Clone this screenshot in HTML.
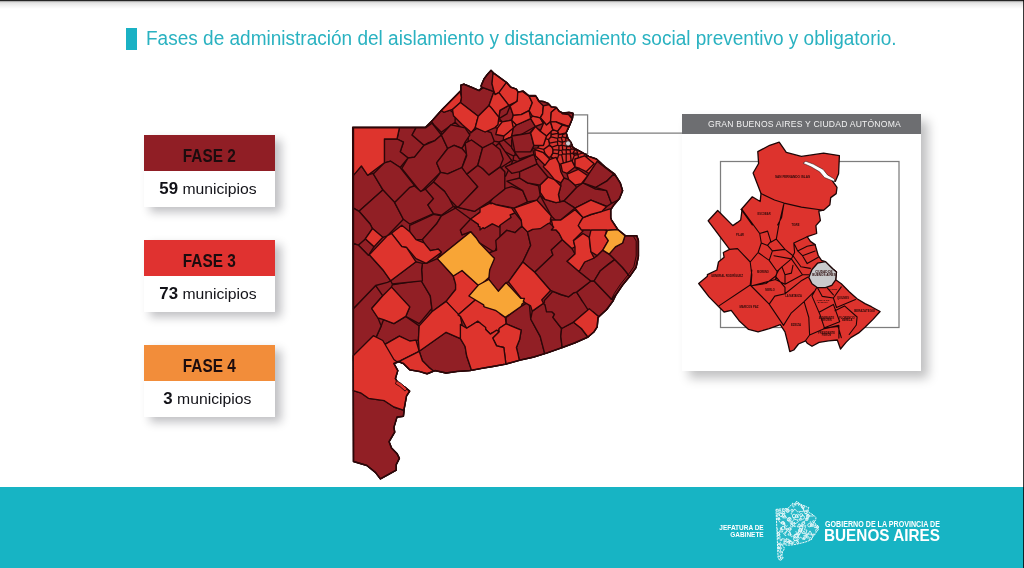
<!DOCTYPE html>
<html lang="es">
<head>
<meta charset="utf-8">
<title>Fases de administración del aislamiento</title>
<style>
html,body{margin:0;padding:0;}
body{width:1024px;height:568px;position:relative;overflow:hidden;background:#fff;font-family:"Liberation Sans",sans-serif;}
.abs{position:absolute;}
#topline{left:0;top:0;width:1024px;height:9px;background:linear-gradient(#1e1e1e 0,#2c2c2c 1px,#c9c9c9 1.6px,#e4e4e4 3px,#f3f3f3 6px,#fff 9px);}
#rightline{right:0;top:0;width:1.2px;height:568px;background:rgba(0,0,0,.78);}
#tbar{left:126px;top:28px;width:11px;height:22px;background:#1ab1c4;}
#title{left:146px;top:25px;height:26px;line-height:26px;font-size:19.5px;color:#2ab2c1;white-space:nowrap;transform-origin:0 50%;transform:scaleX(.9754);}
.card{left:144px;width:131px;height:72px;background:#fff;box-shadow:6px 5px 9px rgba(20,20,30,.27);}
.card .h{height:36px;line-height:43.4px;text-align:center;font-weight:bold;font-size:17.6px;color:#1c0c0e;}
.card .h span{display:inline-block;transform:scaleX(.875);}
.card .b{height:36px;line-height:35.4px;text-align:center;font-size:15.5px;color:#121218;white-space:nowrap;}
.card .b b{font-size:16.6px;}
.card .b span{display:inline-block;transform:translateX(-2px) scaleX(1.015);}
#footer{left:0;top:487px;width:1024px;height:81px;background:#17b4c4;}
#panel{left:682px;top:114px;width:239px;height:257px;background:#fff;box-shadow:7px 7px 10px rgba(10,10,15,.26);}
#panel .ph{height:20px;line-height:20px;background:#6d6e71;color:#f1f1f1;font-size:8.6px;text-align:center;letter-spacing:.2px;white-space:nowrap;padding-left:6px;box-sizing:border-box;}
#map{left:0;top:0;width:1024px;height:568px;filter:blur(.3px);}
.ft{color:#fff;font-weight:bold;white-space:nowrap;}
</style>
</head>
<body>
<div id="tbar" class="abs"></div>
<div id="title" class="abs">Fases de administración del aislamiento y distanciamiento social preventivo y obligatorio.</div>

<div class="card abs" style="top:135px"><div class="h" style="background:#901e25"><span>FASE 2</span></div><div class="b"><span><b>59</b> municipios</span></div></div>
<div class="card abs" style="top:240px"><div class="h" style="background:#e03230"><span>FASE 3</span></div><div class="b"><span><b>73</b> municipios</span></div></div>
<div class="card abs" style="top:345px"><div class="h" style="background:#f28d3a"><span>FASE 4</span></div><div class="b"><span><b>3</b> municipios</span></div></div>

<div id="panel" class="abs"><div class="ph">GRAN BUENOS AIRES Y CIUDAD AUTÓNOMA</div></div>

<svg id="map" class="abs" viewBox="0 0 1024 568" width="1024" height="568">
<g fill="none" stroke="#7d7d7d" stroke-width="1.25"><path d="M566.5,114.8H587.6V153.5H566.5Z"/><path d="M587.6,133H682"/><rect x="720.5" y="161.5" width="178.5" height="166"/></g>
<path d="M779.2,142.1 786.3,152.4 801.4,156.4 823.6,153.2 839.4,155.6 838.6,173.8 835.4,181.3 831.5,179.7 837.0,187.3 836.2,193.6 830.7,197.6 829.9,204.7 823.6,210.2 818.8,211.0 820.4,220.5 815.9,225.6 816.7,233.5 807.2,236.7 810.4,241.4 815.1,244.6 818.3,255.7 821.5,260.4 825.4,261.6 832.6,268.7 836.5,271.9 835.7,279.8 841.3,283.8 849.2,291.7 857.1,298.8 865.0,303.6 871.4,306.7 880.1,311.5 873.0,319.4 865.0,327.3 858.7,332.9 850.8,337.6 846.0,342.4 840.5,349.0 837.3,340.0 828.6,340.8 819.1,342.4 812.0,346.3 807.2,343.2 805.6,340.8 798.5,344.0 793.8,350.0 789.8,351.6 788.2,344.5 785.0,331.8 780.3,324.7 769.2,328.6 758.1,331.8 748.6,329.4 739.1,320.7 731.2,310.4 724.1,312.0 719.3,307.2 709.0,296.9 698.7,283.5 707.4,276.3 707.4,274.7 716.9,270.0 718.5,262.0 724.1,257.3 723.3,252.5 729.6,249.4 708.2,220.8 717.7,210.5 732.8,225.6 737.5,222.4 740.7,220.0 742.3,208.2 741.2,209.5 752.3,196.8 760.2,201.5 761.0,193.6 753.1,173.0 758.6,163.5 757.8,151.6 769.7,145.3Z" fill="#dd332d" stroke="#1d0506" stroke-width="1.3" stroke-linejoin="round"/>
<path d="M761.0,193.6 774.5,200.0 784.0,203.1 801.4,207.1 823.6,210.2M784.0,203.1 781.6,217.4 777.6,225.0M741.2,209.5 752.3,225.0M742.3,209.8 759.7,233.5 767.6,231.1 770.8,241.4M783.5,205.0 778.7,225.6 776.3,239.1 770.8,242.2M776.3,239.1 785.0,249.4 793.0,255.7 794.6,252.5 793.8,243.0 807.2,236.7M759.7,233.5 761.3,243.0 758.1,252.5 750.2,262.0 737.5,248.6 729.6,249.4M750.2,262.0 751.8,274.7 751.0,285.8M758.1,252.5 769.2,260.4 777.1,271.5 775.5,279.5 751.8,285.8M761.3,243.0 767.6,245.4 772.4,250.9 769.2,260.4M767.6,245.4 770.8,241.4M772.4,250.9 785.0,249.4M774.0,255.7 791.4,258.9 793.0,255.7M777.1,271.5 781.9,266.8 791.4,258.9 802.5,274.7 785.0,284.2 775.5,279.5M781.9,266.8 785.0,274.7 791.4,273.1 793.0,265.2M785.0,274.7 785.0,284.2M793.8,243.0 797.7,250.9 807.2,246.2 815.1,244.6M797.7,250.9 802.5,255.7 815.1,250.9M802.5,255.7 807.2,263.6 818.3,257.3M793.0,255.7 800.9,266.8 810.4,268.4M802.5,274.7 808.8,274.7M719.3,305.6 750.2,285.0M750.2,285.0 769.2,304.1 783.5,325.4M750.2,285.0 751.8,270.0M751.8,285.8 766.0,283.5 775.5,276.3 778.7,270.0M769.2,304.1 774.8,296.1 785.0,293.8 800.9,281.1 808.0,277.1M775.5,276.3 785.0,287.4 785.0,293.8M783.5,325.4 791.4,312.8 804.1,301.7 815.1,290.6 816.7,287.4M804.1,301.7 808.8,317.5 809.6,335.0 805.6,340.5M815.1,290.6 812.0,296.1 819.9,314.4 824.7,328.6 809.6,335.0M824.7,328.6 838.9,325.4 838.9,338.1M817.5,287.7 822.3,296.4 833.4,298.0 841.3,286.9M833.4,298.0 836.5,307.5 855.5,299.6M819.1,312.3 833.4,304.4 839.7,321.8 823.9,328.1M835.0,310.7 844.5,305.9 857.1,317.0 856.3,325.0 849.2,334.5M823.9,328.1 838.1,326.5 841.3,337.6M827.0,287.7 833.4,294.9" fill="none" stroke="#1d0506" stroke-width="1.1" stroke-linejoin="round" stroke-linecap="round"/>
<path d="M803.0,163.2 810.9,166.7 819.6,171.8 824.4,177.5 834.7,181.7 834.3,179.0 827.5,174.9 823.2,169.5 813.3,164.1 805.8,161.3Z" fill="#fff" stroke="#1d0506" stroke-width="0.5"/>
<path d="M808.8,277.4 812.0,269.5 817.5,263.2 825.4,261.6 832.6,268.7 836.5,271.9 835.7,279.8 831.8,285.3 825.4,287.7 817.5,287.7 812.0,283.8Z" fill="#c9cacc" stroke="#1d0506" stroke-width="1.3" stroke-linejoin="round"/>
<g font-family="'Liberation Sans',sans-serif" font-weight="bold" fill="#2a0a0a" text-anchor="middle"><text x="792.5" y="178.3" font-size="3.12">SAN FERNANDO ISLAS</text><text x="764" y="214.5" font-size="2.64">ESCOBAR</text><text x="795.5" y="225.5" font-size="2.64">TIGRE</text><text x="740" y="236" font-size="2.64">PILAR</text><text x="727" y="276.5" font-size="2.88">GENERAL RODRÍGUEZ</text><text x="763" y="273" font-size="2.64">MORENO</text><text x="770" y="290.5" font-size="2.64">MERLO</text><text x="749" y="308" font-size="2.88">MARCOS PAZ</text><text x="793.5" y="296.5" font-size="2.64">LA MATANZA</text><text x="796" y="326" font-size="2.88">EZEIZA</text><text x="824" y="272.5" font-size="3.12">CIUDAD DE</text><text x="824" y="276" font-size="3.12">BUENOS AIRES</text><text x="843" y="298.5" font-size="2.64">QUILMES</text><text x="864.5" y="312" font-size="2.88">BERAZATEGUI</text><text x="847" y="318.5" font-size="2.64">FLORENCIO</text><text x="847" y="321" font-size="2.64">VARELA</text><text x="826.5" y="318.5" font-size="2.64">ALMIRANTE</text><text x="826.5" y="321" font-size="2.64">BROWN</text><text x="826.5" y="333.5" font-size="2.64">PRESIDENTE</text><text x="826.5" y="336" font-size="2.64">PERÓN</text><text x="833" y="290" font-size="2.40">LANÚS</text><text x="823" y="301" font-size="2.40">LOMAS DE</text><text x="823" y="303.3" font-size="2.40">ZAMORA</text></g><path d="M352.7,127.3 353.5,461.5 366.9,465.5 375.6,472.6 380.4,478.9 387.5,475.0 396.2,470.2 396.2,464.7 399.4,458.3 397.0,453.6 391.5,448.0 389.1,441.7 394.7,432.2 393.9,427.4 397.0,417.1 403.4,416.3 404.2,408.6 406.5,396.0 409.7,391.2 404.9,387.2 398.6,384.1 395.4,378.5 397.8,370.6 393.9,363.5 398.6,361.9 403.4,363.5 409.7,369.8 419.2,371.4 427.1,373.8 435.0,370.6 446.1,373.0 457.2,371.4 469.9,370.6 482.6,368.2 492.7,366.5 505.3,364.2 519.6,360.2 533.9,357.0 546.5,353.1 562.4,347.5 575.0,342.8 587.7,337.2 594.1,331.7 597.2,326.9 598.0,317.4 606.7,309.5 613.1,300.8 616.2,294.5 622.6,285.0 630.5,275.4 636.0,267.5 638.4,256.4 638.4,240.6 636.8,235.8 625.7,235.8 617.8,229.5 611.5,220.0 610.7,217.6 610.7,209.7 613.9,205.0 619.4,198.6 622.6,190.7 620.2,182.8 614.7,174.1 605.1,166.9 596.4,159.0 588.8,156.4 581.9,152.4 573.0,147.5 571.0,142.5 568.0,138.6 566.1,132.7 569.0,126.8 572.5,118.2 573.0,113.3 569.0,112.3 563.1,113.1 559.2,111.3 556.2,107.4 551.3,106.9 548.3,103.4 543.4,101.5 539.0,101.0 535.5,95.6 528.6,95.6 523.2,91.1 518.2,92.1 516.3,89.1 510.8,87.2 506.8,82.7 494.0,73.4 491.0,70.4 487.1,74.8 484.1,78.8 481.1,85.7 481.6,87.7 479.2,90.6 471.3,87.2 463.9,84.2 460.9,85.2 460.9,90.6 441.7,110.0 432.8,120.0 425.5,127.3Z" fill="#911f25" stroke="#2b0709" stroke-width="1.3" stroke-linejoin="round"/>
<path d="M503.2,140.4 504.1,140.2 512.1,136.6 512.0,136.0 513.4,129.1 512.6,128.3 503.9,135.5ZM539.2,129.8 538.7,129.4 537.8,129.3 539.7,131.2ZM533.0,129.2 529.5,133.4 530.7,133.2 530.8,133.2 530.8,133.2 530.8,133.2 530.9,133.2 530.9,133.1 530.9,133.1 530.9,133.1 530.9,133.1 533.8,129.2ZM539.7,131.2 540.0,131.5 540.0,131.5 540.0,131.5 540.1,131.6 540.1,131.6 540.1,131.6 540.1,131.6 540.2,131.6 540.2,131.6 540.2,131.6 540.3,131.6 540.3,131.6 540.3,131.6 540.3,131.6 540.4,131.5 540.4,131.5 540.4,131.5 540.4,131.5 540.5,131.5 540.5,131.4 540.5,131.4 541.1,130.0 539.2,129.8ZM548.6,139.7 551.0,136.9 551.3,134.5 550.8,131.3 546.3,135.8 546.3,135.8 546.3,135.8 546.2,135.9 546.2,135.9 546.2,135.9 545.3,138.7ZM549.5,145.1 549.5,143.1 548.6,139.7 545.3,138.7 543.2,145.2 539.3,145.2 537.7,147.8 543.7,149.4ZM552.9,153.2 553.1,149.7 552.0,147.1 549.5,145.1 543.7,149.4 545.0,153.4 548.6,157.4 550.8,156.8ZM537.7,147.8 532.9,148.4 532.8,148.5 532.6,149.8 533.5,154.1 531.6,154.7 531.4,155.7 533.7,154.7 535.5,160.2 538.3,158.2 535.7,155.7 535.1,149.9 543.2,153.0 544.2,153.9 545.0,153.4 543.7,149.4ZM560.0,165.0 560.0,165.0 557.9,161.8 558.9,163.9 559.2,165.1ZM550.8,156.8 548.6,157.4 548.3,158.1 549.3,159.0 548.9,159.5 548.9,159.5 548.9,159.6 548.9,159.6 548.9,159.6 548.9,159.7 548.9,159.7 548.9,159.7 548.9,159.7 548.9,159.8 548.9,159.8 548.9,159.8 548.9,159.8 548.9,159.9 549.0,159.9 549.0,159.9 549.0,159.9 549.0,160.0 549.0,160.0 549.1,160.0 549.1,160.0 549.1,160.0 549.2,160.0 549.2,160.0 549.2,160.0 549.2,160.0 549.3,160.0 553.7,158.5ZM578.6,167.8 575.3,166.7 575.3,163.2 574.1,165.1 576.2,168.3 578.1,168.8ZM578.0,154.7 578.1,154.5 577.6,153.4 573.1,152.8 572.7,153.4 574.4,155.3ZM585.9,157.3 593.7,163.8 586.1,171.2 586.1,171.7 588.6,173.5 590.8,171.5 597.3,161.8 599.7,163.7 600.7,162.9 596.4,159.0 588.8,156.4 587.1,155.4 585.9,157.2ZM498.1,120.8 497.6,124.6 494.8,127.3 494.7,127.4 497.7,128.3 497.7,128.2 502.4,122.0 502.5,122.0 502.5,121.9 502.5,121.9 502.5,121.9 502.5,121.9 502.5,121.8 502.5,121.8 502.5,121.8 502.5,121.7 502.5,121.7 502.5,121.7 502.5,121.7 502.4,121.6 502.4,121.6 502.4,121.6 502.4,121.5ZM513.4,129.1 513.6,128.2 516.6,125.2 516.6,125.2 516.6,125.2 516.7,125.1 516.7,125.1 516.7,125.1 516.7,125.1 516.7,125.0 516.7,125.0 516.7,125.0 516.7,124.9 516.7,124.9 516.7,124.9 516.7,124.9 516.7,124.8 516.6,124.8 516.6,124.8 511.9,120.0 511.9,120.0 511.9,120.0 511.8,119.9 511.8,119.9 511.8,119.9 511.8,119.9 511.7,119.9 511.7,119.9 511.7,119.9 511.6,119.9 511.6,119.9 511.6,119.9 511.6,119.9 511.5,120.0 511.5,120.0 511.5,120.0 511.5,120.0 511.5,120.0 511.4,120.1 511.4,120.1 511.4,120.1 511.4,120.1 511.4,120.2 511.4,120.2 511.4,120.2 511.4,120.3 513.0,128.0 512.6,128.3Z" fill="#de342d" stroke="#2b0709" stroke-width="1.35" stroke-linejoin="round"/>
<path d="M532.6,147.4 532.3,148.1 532.3,148.1 532.3,148.1 532.2,148.2 532.2,148.2 532.2,148.2 532.2,148.3 532.2,148.3 532.3,148.5 532.8,148.5 532.9,148.4ZM514.9,154.9 515.4,152.6 512.0,147.8 512.0,147.6 504.1,140.2 503.2,140.4 498.9,142.0 503.8,150.3 504.7,151.5 513.7,156.1ZM513.7,156.1 504.7,151.5 511.3,160.5 501.7,166.7 501.8,169.1 504.5,171.8 504.5,175.7 505.6,176.2 508.6,169.8 505.8,167.0 511.0,164.7 513.1,160.2ZM527.4,156.1 519.7,158.6 517.2,155.1 514.9,154.9 513.7,156.1 513.1,160.2 518.0,161.6 530.0,156.4ZM441.3,132.3 450.9,125.3 451.0,125.1 451.1,125.1 455.1,122.2 455.2,117.1 453.8,115.7 453.3,112.6 449.6,110.0 443.8,112.0 441.7,110.4 441.9,110.2 445.1,107.0 444.9,106.8 441.7,110.0 432.8,120.0 431.5,121.3 434.1,125.1ZM433.5,125.7 441.2,135.2 441.3,132.3 434.1,125.1ZM427.5,144.1 435.1,140.9 435.1,140.9 435.2,140.8 435.2,140.8 435.2,140.8 435.2,140.8 435.3,140.8 435.3,140.7 435.3,140.7 435.3,140.7 435.3,140.7 435.3,140.6 435.3,140.6 435.3,140.6 435.3,140.5 435.3,140.5 435.3,140.5 435.3,140.5 435.2,140.4 435.2,140.4 435.2,140.4 435.2,140.4 435.2,140.3 435.1,140.3 435.1,140.3 435.1,140.3 435.1,140.3 435.0,140.3 435.0,140.3 435.0,140.3 434.9,140.3 434.9,140.3 427.8,142.7 427.8,142.7 427.7,142.7 425.2,144.3ZM441.2,135.2 441.2,135.2 441.2,135.2 441.2,135.2 441.2,135.2 441.3,135.3 441.3,135.3 441.3,135.3 441.3,135.3 441.4,135.3 441.4,135.3 441.4,135.3 441.5,135.3 441.5,135.3 441.5,135.3 441.5,135.3 441.6,135.2 441.6,135.2 441.6,135.2 450.9,125.3 441.3,132.3ZM455.1,122.2 451.1,125.1 460.1,127.1ZM486.5,131.0 485.1,131.7 477.1,128.1 468.8,134.0 469.5,135.0 468.3,136.9 468.1,141.5 468.6,141.8 471.5,140.3 482.4,148.1 482.5,148.2 482.5,148.2 482.5,148.2 482.5,148.2 482.6,148.2 482.6,148.2 482.6,148.2 482.6,148.2 482.7,148.2 482.7,148.2 482.7,148.2 492.1,143.6 492.2,143.7 494.2,141.1 491.0,132.6ZM498.9,142.0 494.2,141.1 492.2,143.7 495.5,146.3 495.5,146.3 495.6,146.3 495.6,146.4 495.6,146.4 495.7,146.4 495.7,146.4 495.7,146.4 495.7,146.4 495.8,146.4 495.8,146.4 495.8,146.4 495.9,146.3 495.9,146.3 495.9,146.3 499.0,143.6 503.8,150.3ZM504.1,140.2 512.0,147.6 512.0,140.3 512.5,140.3 512.5,140.3 512.6,140.3 512.6,140.3 512.6,140.3 512.6,140.3 512.7,140.2 512.7,140.2 512.7,140.2 512.7,140.2 512.8,140.2 512.8,140.1 512.8,140.1 512.8,140.1 512.8,140.1 512.8,140.0 512.8,140.0 512.8,140.0 512.8,139.9 512.1,136.6ZM425.2,144.3 423.8,145.0 423.8,145.1 423.8,145.1 423.8,145.1 423.8,145.1 423.7,145.1 423.7,145.2 423.7,145.2 423.7,145.2 423.7,145.3 423.7,145.3 423.7,145.3 423.7,145.3 423.7,145.4 423.7,145.4 423.7,145.4 423.7,145.4 423.8,145.5 423.8,145.5 423.8,145.5 423.8,145.5 423.8,145.6 423.9,145.6 423.9,145.6 423.9,145.6 423.9,145.6 424.0,145.6 424.0,145.6 424.0,145.6 424.1,145.6 424.1,145.6 424.1,145.6 427.5,144.1ZM461.9,148.0 461.7,148.4 461.7,148.4 461.7,148.4 461.7,148.4 461.7,148.5 461.7,148.5 461.7,148.5 461.7,148.6 461.7,148.6 461.7,148.6 461.7,148.6 461.8,148.7 461.8,148.7 461.9,148.8ZM465.8,158.9 467.0,155.9 467.0,155.9 467.0,155.9 467.0,155.8 467.0,155.8 467.0,155.8 466.8,154.5 466.8,154.5 466.8,154.5 466.8,154.4 466.8,154.4 466.8,154.4 466.8,154.4 466.7,154.3 466.7,154.3 466.7,154.3 466.7,154.3 466.6,154.3 466.6,154.3 466.6,154.3 466.6,154.3 466.5,154.3 466.5,154.3 466.5,154.3 466.4,154.3 466.4,154.3 466.4,154.3 466.4,154.3 466.3,154.3 466.3,154.4 466.3,154.4 466.3,154.4 466.3,154.4 466.3,154.5 464.6,159.3ZM468.1,141.5 466.8,142.7 468.6,141.8ZM462.5,146.8 461.9,148.0 461.9,148.8 466.2,154.0 466.2,154.0 466.3,154.0 466.3,154.0 466.3,154.1 466.3,154.1 466.4,154.1 466.4,154.1 466.4,154.1 466.5,154.1 466.5,154.1 466.5,154.1 466.5,154.1 466.6,154.1 466.6,154.1 466.6,154.0 466.6,154.0 466.7,154.0 466.7,154.0 466.7,154.0 466.7,153.9 466.7,153.9 466.7,153.9 466.7,153.8 466.7,153.8 466.7,153.8 466.7,153.8 465.5,143.9Z" fill="#911f25" stroke="#2b0709" stroke-width="1.35" stroke-linejoin="round"/>
<path d="M555.2,130.2 553.0,129.4 553.0,129.4 552.9,129.4 552.9,129.4 552.9,129.4 552.8,129.4 552.8,129.4 552.8,129.4 552.8,129.4 552.7,129.4 552.7,129.5 552.7,129.5 551.8,130.4ZM551.3,134.5 557.8,133.3 558.0,131.3 557.9,131.2 557.9,131.1 557.8,131.1 557.8,131.1 557.8,131.1 557.8,131.1 557.7,131.0 557.7,131.0 557.7,131.0 555.2,130.2 551.8,130.4 550.8,131.3ZM557.6,138.3 558.3,137.7 558.3,134.0 557.8,133.3 551.3,134.5 551.0,136.9ZM548.6,139.7 549.5,143.1 557.4,141.7 557.8,140.9 557.6,138.3 551.0,136.9ZM552.0,147.1 557.8,145.2 557.4,141.7 549.5,143.1 549.5,145.1ZM557.8,145.2 552.0,147.1 553.1,149.7 558.9,150.1 558.9,145.8ZM558.9,150.1 553.1,149.7 552.9,153.2 558.2,153.8 559.0,150.3ZM558.8,154.8 558.2,153.8 552.9,153.2 550.8,156.8 553.7,158.5 555.8,157.8 556.9,159.9ZM561.6,123.6 560.1,123.0 559.8,124.0 561.8,125.0ZM559.2,133.9 558.0,131.3 557.8,133.3 558.3,134.0ZM561.9,133.6 561.9,133.6 561.6,133.6ZM562.5,136.8 562.6,134.7 561.9,133.6 561.6,133.6 559.4,134.2 559.2,133.9 558.3,134.0 558.3,137.7 561.3,137.6ZM558.3,137.7 557.6,138.3 557.8,140.9 562.4,142.4 562.6,142.2 561.3,137.6ZM557.8,140.9 557.4,141.7 557.8,145.2 558.9,145.8 562.0,145.1 562.4,142.4ZM562.3,145.3 562.0,145.1 558.9,145.8 558.9,150.1 559.0,150.3 561.7,150.4 562.7,149.6ZM559.0,150.3 558.2,153.8 558.8,154.8 561.7,154.8 562.7,153.9 561.7,150.4ZM558.8,154.8 556.9,159.9 557.9,161.8 560.0,165.0 561.2,164.4 561.1,164.0 562.8,163.5 563.4,163.2 561.7,154.8ZM562.6,134.7 566.1,133.4 566.1,132.8 566.1,132.7 566.1,132.6 566.1,132.0 565.8,132.6 565.8,132.6 565.8,132.6 565.8,132.6 565.8,132.7 565.8,132.7 561.9,133.6 561.9,133.6ZM562.6,134.7 562.5,136.8 565.8,137.9 566.0,137.8 567.0,135.5 566.5,133.9 566.1,133.4ZM562.5,136.8 561.3,137.6 562.6,142.2 565.8,141.0 565.8,137.9ZM565.8,141.0 562.6,142.2 562.4,142.4 562.0,145.1 562.3,145.3 566.4,146.1 567.4,142.2ZM566.4,146.1 562.3,145.3 562.7,149.6 566.1,149.8 566.3,149.5 566.7,146.6ZM562.7,149.6 561.7,150.4 562.7,153.9 566.2,154.1 566.4,153.9 566.1,149.8ZM566.2,154.1 562.7,153.9 561.7,154.8 563.4,163.2 566.2,162.5ZM566.2,126.2 568.3,126.7 567.0,130.2 566.6,130.9 567.0,130.9 569.0,126.8 569.1,126.5 568.8,125.8 568.6,126.1 566.3,125.3ZM566.5,133.9 566.1,132.8 566.1,133.4ZM566.1,132.6 567.0,130.9 566.6,130.9 566.1,132.0ZM567.8,138.0 567.0,135.5 566.0,137.8ZM565.8,137.9 565.8,141.0 567.4,142.2 569.8,142.0 570.1,141.8 570.1,141.3 568.0,138.6 567.8,138.0 566.0,137.8ZM566.4,146.1 566.7,146.6 570.4,146.5 569.8,142.0 567.4,142.2ZM570.5,146.6 570.4,146.5 566.7,146.6 566.3,149.5 570.2,150.0 571.1,148.9ZM566.3,149.5 566.1,149.8 566.4,153.9 570.3,153.7 570.5,153.5 570.2,150.0ZM566.2,154.1 566.2,162.5 566.3,162.5 571.2,161.1 570.3,153.7 566.4,153.9ZM569.1,126.5 571.1,121.7 570.7,121.7 569.9,123.7 568.8,125.8ZM570.5,141.9 570.1,141.3 570.1,141.8ZM570.5,146.6 572.3,145.8 571.0,142.5 570.5,141.9 570.1,141.8 569.8,142.0 570.4,146.5ZM574.3,149.3 574.4,148.3 573.0,147.5 572.3,145.8 570.5,146.6 571.1,148.9ZM573.1,152.8 574.8,149.9 574.3,149.3 571.1,148.9 570.2,150.0 570.5,153.5 572.7,153.4ZM571.2,161.1 571.7,161.0 572.0,161.5 574.4,155.3 572.7,153.4 570.5,153.5 570.3,153.7ZM574.8,149.9 576.8,150.3 577.3,149.9 574.4,148.3 574.3,149.3ZM576.8,150.3 574.8,149.9 573.1,152.8 577.6,153.4ZM574.1,165.1 575.3,163.2 575.3,159.2 578.6,158.1 578.0,154.7 574.4,155.3 572.0,161.5 573.6,164.7ZM577.6,153.4 578.1,154.5 582.8,152.9 581.9,152.4 577.3,149.9 576.8,150.3ZM585.9,157.2 587.1,155.4 582.8,152.9 578.1,154.5 578.0,154.7 578.6,158.1 584.5,156.1 585.8,157.2Z" fill="#d4352f" stroke="#2b0709" stroke-width="1.3" stroke-linejoin="round"/>
<g fill="#911f25" stroke="#2b0709" stroke-width="1.35" stroke-linejoin="round"><path d="M353.5,208.1 359.0,211.3 382.8,189.9 373.3,173.3 367.7,174.9 361.4,166.1 353.5,174.9Z"/><path d="M397.0,139.0 403.4,142.2 400.2,151.7 408.1,158.0 414.5,157.2 424.0,145.3 412.1,135.0 416.0,127.9 399.4,127.9Z"/><path d="M384.4,162.8 390.7,161.2 400.2,167.5 408.1,158.0 400.2,151.7 403.4,142.2 397.0,139.0 384.4,139.0Z"/><path d="M412.1,135.0 424.0,145.3 427.9,143.0 435.0,140.6 441.4,135.0 431.9,123.2 425.5,127.9 416.0,127.9Z"/><path d="M414.5,157.2 408.1,158.0 401.8,168.3 420.8,192.1 440.6,172.3 436.6,162.8 447.7,148.5 441.4,135.0 435.0,140.6 424.0,145.3Z"/><path d="M447.7,148.5 454.1,145.3 462.0,148.5 465.1,142.2 469.9,135.0 465.1,127.9 450.9,124.8 441.4,135.0Z"/><path d="M436.6,162.8 440.6,172.3 447.7,173.9 462.0,167.5 466.7,154.1 462.0,148.5 454.1,145.3 447.7,148.5Z"/><path d="M384.4,162.8 373.3,173.9 382.8,189.7 394.7,202.4 409.7,188.1 414.5,185.7 400.2,167.5 390.7,161.2Z"/><path d="M433.5,181.8 444.6,191.3 449.3,199.2 458.0,207.9 477.8,186.5 462.0,167.5 447.7,173.9 440.6,172.3Z"/><path d="M358.2,245.1 368.5,255.4 374.1,246.7 365.3,238.8Z"/><path d="M381.2,325.9 374.1,341.8 382.8,345.7 399.4,336.2 409.7,341.0 418.4,340.2 419.2,325.9 405.7,316.4 393.9,323.6 383.6,319.6Z"/><path d="M353.5,360.8 374.1,341.8 381.2,325.9 378.0,318.0 371.7,308.5 382.8,295.8 375.6,285.5 353.5,308.5Z"/><path d="M391.5,287.1 409.7,306.9 405.7,316.4 419.2,323.6 431.9,308.5 430.3,295.8 420.8,280.0 392.3,284.8Z"/><path d="M431.9,308.5 431.9,311.7 446.1,301.4 455.2,290.0 457.2,290.0 455.6,284.3 455.6,280.0 454.4,280.0 453.3,276.0 437.4,258.6 426.3,263.4 422.4,263.4 421.6,269.7 422.3,280.0 420.8,280.0 430.3,295.8Z"/><path d="M419.2,351.3 422.4,360.8 433.0,371.4 435.0,370.6 446.1,373.0 457.2,371.4 469.9,370.6 471.6,370.3 471.5,370.0 466.7,356.0 465.1,346.5 460.4,338.6 446.1,332.3Z"/><path d="M506.1,323.8 521.2,330.1 519.6,339.6 516.4,347.5 519.3,360.3 519.6,360.2 533.9,357.0 544.7,353.6 540.2,336.4 530.7,319.0 529.1,301.6 521.2,306.3 506.1,317.4Z"/><path d="M530.7,319.0 540.2,336.4 544.7,353.6 546.5,353.1 562.2,347.6 560.8,336.4 561.6,328.5 552.9,317.4 554.5,314.3 543.4,303.2 532.3,311.1Z"/><path d="M560.8,336.4 562.2,347.6 562.4,347.5 575.0,342.8 587.7,337.2 587.9,337.0 581.4,328.5 573.5,322.2 561.6,328.5Z"/><path d="M546.5,311.9 552.1,311.9 554.5,314.3 552.9,317.4 561.6,328.5 573.5,322.2 585.6,311.9 589.3,311.9 588.0,309.8 589.3,308.7 582.3,301.0 576.6,292.1 573.5,292.9 568.7,296.8 560.8,294.5 552.9,291.3 544.2,300.8 544.5,302.1 543.4,303.2 545.0,304.8Z"/><path d="M589.3,311.9 593.1,311.9 598.8,316.7 606.7,309.5 613.1,300.8 613.5,300.0 613.1,300.0 611.5,299.2 594.1,281.0 590.9,281.0 576.6,292.1 581.7,300.0 581.4,300.0 582.3,301.0Z"/><path d="M403.4,410.2 393.9,407.0 384.4,400.7 368.5,398.3 360.6,392.8 353.3,390.7 353.5,461.5 366.9,465.5 375.6,472.6 380.4,478.9 387.5,475.0 396.2,470.2 396.2,464.7 399.4,458.3 397.0,453.6 391.5,448.0 389.1,441.7 394.7,432.2 393.9,427.4 397.0,417.1 403.4,416.3 404.0,410.8Z"/><path d="M461.4,97.5 460.4,102.5 478.2,116.3 489.0,105.4 494.0,91.6 483.1,87.7 479.2,90.6 471.3,87.2 463.9,84.2 460.9,85.2Z"/><path d="M483.1,87.7 494.0,91.6 492.0,83.7 493.5,73.9 492.2,71.7 491.0,70.4 487.1,74.8 484.1,78.8 481.1,85.7 481.3,86.5Z"/><path d="M498.9,117.3 506.8,122.2 511.7,120.2 513.7,113.3 508.8,105.4 499.9,110.4Z"/><path d="M560.8,185.9 558.4,194.7 560.0,201.8 564.0,201.0 576.6,187.5 575.0,185.1 568.7,179.6 564.0,178.0 560.8,182.8Z"/><path d="M564.0,201.0 575.0,208.1 590.9,200.2 606.7,206.5 611.5,203.4 606.7,190.7 595.6,189.1 583.0,182.8 576.6,187.5Z"/><path d="M583.0,182.8 595.6,187.5 606.7,181.2 613.9,174.1 597.2,161.4 587.7,175.6Z"/><path d="M606.7,181.2 595.6,187.5 606.7,190.7 611.5,203.4 618.2,200.0 619.4,198.6 622.6,190.7 620.2,182.8 616.5,177.0 613.9,174.1Z"/><path d="M551.3,216.0 557.6,222.4 575.0,208.1 564.0,201.0 556.0,202.6 545.0,199.4 540.2,195.4Z"/><path d="M502.2,220.0 497.4,224.8 489.5,223.2 483.2,227.9 480.0,229.5 480.0,246.9 487.9,253.3 496.6,250.1 495.8,240.6 506.9,230.3 514.9,232.7 517.9,230.0 518.0,230.0 518.1,229.8 522.0,226.3 521.7,224.1 522.8,222.4 521.3,220.6 521.2,220.0 520.8,220.0 514.9,212.9 503.8,217.6 502.6,220.0Z"/><path d="M489.5,203.4 514.1,208.1 527.5,201.8 522.8,190.7 511.7,186.7 497.4,190.7Z"/><path d="M522.8,190.7 527.5,201.8 537.0,200.2 540.2,195.4 538.6,185.9 527.5,182.8 519.6,178.0 506.9,181.2Z"/><path d="M519.6,178.0 527.5,182.8 540.2,185.1 548.1,177.2 537.0,163.8 519.6,171.7Z"/><path d="M511.7,173.3 519.6,171.7 537.0,163.8 533.9,154.3 505.3,166.9Z"/><path d="M492.7,163.8 500.6,167.7 511.7,160.6 499.0,143.2 486.3,154.3Z"/><path d="M511.7,147.9 519.6,159.0 533.9,154.3 530.7,140.0 511.7,140.0Z"/><path d="M370.1,224.0 372.5,228.7 382.8,237.4 387.5,235.8 403.4,219.2 394.7,202.6 382.8,189.9 359.0,211.3Z"/><path d="M403.4,219.2 409.7,224.0 433.5,213.7 427.9,205.0 433.5,198.6 425.5,189.1 420.8,191.5 414.5,185.9 409.7,187.5 394.7,202.6Z"/><path d="M433.5,198.6 427.9,205.0 433.5,213.7 441.4,215.2 453.3,206.5 449.3,198.6 444.6,191.5 433.5,182.0 425.5,189.1Z"/><path d="M409.7,231.7 416.0,239.6 422.4,239.6 436.6,223.8 441.4,215.8 433.5,214.3 409.7,225.3Z"/><path d="M436.6,223.8 422.4,239.6 424.0,242.8 430.3,250.7 438.2,249.1 441.4,252.3 437.4,258.6 470.7,231.7 462.0,234.9 460.4,230.1 471.5,219.0 457.2,207.1 441.4,215.8Z"/><path d="M470.7,219.2 492.1,203.4 488.9,201.8 474.7,211.3 458.0,207.3 453.3,206.5Z"/><path d="M460.4,230.1 462.0,234.9 470.7,231.7 476.2,238.0 479.4,242.8 494.5,252.3 500.0,239.6 500.0,225.3 492.1,223.8 484.2,228.5 470.7,219.0Z"/><path d="M353.5,243.0 358.2,245.3 365.3,239.0 372.5,228.7 370.1,224.0 359.0,211.3 353.5,208.1Z"/><path d="M353.5,308.5 375.6,285.5 387.5,282.4 390.7,280.8 382.8,269.7 369.3,254.7 368.5,255.4 358.2,245.1 353.5,243.6Z"/><path d="M390.7,280.8 392.3,284.0 422.4,280.8 421.6,269.7 422.4,263.4 416.0,261.8Z"/><path d="M496.6,250.1 487.9,253.3 494.3,258.0 489.5,269.1 488.7,279.4 498.2,291.3 506.1,282.6 508.5,281.8 522.8,262.0 530.7,245.3 527.5,231.9 522.0,226.3 514.9,232.7 506.9,230.3 495.8,240.6Z"/><path d="M530.7,245.3 522.8,262.0 534.7,272.3 552.9,254.9 551.3,250.1 562.4,239.8 559.2,233.5 552.9,226.3 549.7,223.2 540.2,225.5 527.5,231.9Z"/><path d="M534.7,272.3 550.5,290.5 552.9,291.3 560.8,294.5 568.7,296.8 573.5,292.9 576.6,292.1 590.9,281.0 579.0,271.5 567.1,261.2 575.0,254.1 571.9,248.5 562.4,239.8 551.3,250.1 552.9,254.9Z"/><path d="M590.9,281.0 594.1,281.0 600.4,270.7 608.3,264.4 614.7,259.6 609.1,254.1 602.8,250.1 597.2,255.6 594.1,258.0 584.6,262.0 579.0,271.5Z"/><path d="M608.3,264.4 600.4,270.7 594.1,281.0 611.5,299.2 617.1,293.2 622.6,285.0 630.0,276.0 628.9,275.4 622.6,267.5 614.7,259.6Z"/><path d="M622.6,243.0 615.4,246.9 609.1,254.1 614.7,259.6 622.6,267.5 628.9,275.4 630.0,276.0 630.5,275.4 636.0,267.5 638.4,256.4 638.4,240.6 636.8,235.8 625.7,235.8 625.6,235.7 625.0,235.8Z"/><path d="M568.7,114.7 572.5,117.9 573.0,113.3 570.0,112.6 563.9,113.0 563.1,113.1 563.0,113.1 562.4,113.1Z"/><path d="M502.2,121.8 511.7,120.2 513.3,115.4 510.1,105.9 506.9,113.9 499.0,118.6Z"/><path d="M513.3,128.1 511.7,136.0 521.2,134.5 535.4,126.5 530.7,118.6 516.4,125.0Z"/><path d="M514.9,151.9 530.7,151.9 533.9,145.5 530.7,132.9 521.2,134.5 511.7,136.0Z"/><path d="M458.0,207.3 474.7,211.3 488.9,201.8 504.8,189.1 504.8,171.7 500.0,166.9 488.9,174.9 482.6,168.5 477.8,165.3 466.7,174.1 477.8,186.7Z"/><path d="M466.7,174.1 477.8,165.3 482.6,147.9 471.5,140.0 465.1,143.2 466.7,155.8 462.0,167.7Z"/><path d="M477.8,165.3 482.6,168.5 488.9,174.9 500.0,166.9 503.2,159.0 500.0,149.5 492.1,143.2 482.6,147.9Z"/></g>
<g fill="#de342d" stroke="#2b0709" stroke-width="1.35" stroke-linejoin="round"><path d="M353.5,175.4 361.4,165.9 367.7,175.4 384.4,162.8 384.4,139.0 397.0,139.0 399.4,127.9 353.5,127.9Z"/><path d="M455.6,284.3 455.6,289.5 446.1,301.4 458.0,314.9 481.0,295.0 476.8,289.3 479.4,286.3 462.0,270.5 453.3,276.0Z"/><path d="M391.5,233.3 401.8,246.7 406.5,247.5 416.0,258.6 426.3,263.4 441.4,252.3 438.2,249.1 430.3,250.7 424.0,242.8 416.0,239.6 409.7,231.7 401.8,225.3Z"/><path d="M369.3,254.7 382.8,269.7 390.7,280.8 416.0,261.8 406.5,247.5 401.8,246.7 391.5,233.3 387.5,235.6Z"/><path d="M365.3,238.8 374.1,246.7 382.8,237.2 372.5,228.5Z"/><path d="M480.0,208.1 480.0,212.1 470.7,219.0 478.4,224.4 478.4,226.3 480.0,226.8 480.0,230.0 482.8,227.8 483.2,227.9 483.3,227.8 484.2,228.5 492.1,223.8 492.5,223.9 499.0,227.1 499.9,225.3 500.0,225.3 511.1,217.4 510.1,214.9 514.9,212.9 511.7,208.1 496.3,204.8 492.1,203.2 491.3,203.8 489.5,203.4Z"/><path d="M524.4,302.4 530.6,305.9 532.3,311.1 543.4,303.2 541.8,300.0 541.7,300.0 550.5,290.5 534.7,272.3 522.8,262.0 508.5,281.8Z"/><path d="M553.7,227.2 551.3,230.0 556.1,230.0 559.2,233.5 562.4,239.8 571.9,248.5 575.0,246.9 573.5,240.6 583.0,231.1 579.6,223.2 583.0,217.6 575.0,209.7 560.9,220.0 551.3,220.0 552.9,226.3Z"/><path d="M573.5,240.6 575.0,246.9 575.0,254.1 567.1,261.2 579.0,271.5 584.6,262.0 594.1,258.0 590.9,251.7 589.3,237.4 583.0,233.5Z"/><path d="M590.9,230.3 589.3,237.4 590.9,251.7 597.2,255.6 602.8,250.1 608.3,240.6 605.1,235.8 606.7,230.3 597.2,226.3Z"/><path d="M578.2,225.5 581.4,230.0 589.9,230.0 590.9,230.3 591.4,230.0 606.7,230.0 607.5,230.3 611.4,230.0 618.4,230.0 617.8,229.5 611.5,220.0 610.7,217.6 610.7,209.7 611.7,208.3 602.0,211.3 590.9,214.5 583.0,217.6 581.5,220.0 581.4,220.0 581.4,220.2Z"/><path d="M527.5,231.9 532.5,229.4 540.2,228.7 547.8,223.7 549.7,223.2 551.3,220.0 550.3,220.0 551.3,216.0 537.0,200.2 514.1,208.1 521.3,220.0 521.2,220.0 522.0,226.3Z"/><path d="M382.8,295.8 371.7,308.5 378.0,318.0 383.6,319.6 393.9,323.6 405.7,316.4 409.7,306.9 391.5,287.1Z"/><path d="M393.9,362.4 400.2,360.8 419.2,351.3 416.0,340.2 409.7,341.0 399.4,336.2 382.8,345.7Z"/><path d="M401.2,362.8 403.4,363.5 409.7,369.8 419.2,371.4 426.1,373.5 427.8,373.5 433.7,371.1 428.7,367.1 422.4,360.8 419.2,351.3 400.2,360.8Z"/><path d="M360.6,392.8 368.5,398.3 384.4,400.7 393.9,407.0 403.4,410.2 404.2,408.6 406.5,396.0 409.1,392.1 408.9,390.5 404.9,387.2 398.6,384.1 395.4,378.5 397.8,370.6 393.9,363.5 397.6,362.3 393.9,359.5 382.8,340.5 373.3,335.7 353.2,355.8 353.3,390.7Z"/><path d="M431.9,311.7 419.2,325.9 418.4,340.2 419.2,351.3 446.1,332.3 460.4,338.6 462.0,324.4 460.4,316.4 446.1,301.4Z"/><path d="M460.4,316.4 466.7,328.3 477.8,321.2 480.0,323.0 480.0,323.8 490.3,334.1 492.3,332.8 493.7,333.9 500.0,329.1 500.0,327.8 506.1,323.8 505.3,317.4 500.0,313.6 500.0,311.7 495.4,310.3 494.3,309.5 484.8,306.3 484.0,306.3 481.0,295.0 458.0,314.9Z"/><path d="M499.0,328.5 499.0,331.7 492.7,338.0 496.6,345.9 503.8,347.5 505.9,364.0 519.3,360.3 518.0,353.9 516.4,347.5 519.6,339.6 521.2,330.1 506.1,323.8Z"/><path d="M503.8,347.5 496.6,345.9 492.7,338.0 499.0,331.7 496.6,330.1 490.3,334.1 485.7,329.5 485.7,327.5 477.8,321.2 466.7,328.3 460.4,324.4 460.4,338.6 465.1,346.5 466.7,356.0 471.5,370.3 482.6,368.2 492.7,366.5 505.3,364.2 505.9,364.0Z"/><path d="M581.4,328.5 587.9,337.0 594.1,331.7 597.2,326.9 598.0,317.4 598.8,316.7 589.3,308.7 573.5,322.2Z"/><path d="M492.0,83.7 494.0,91.6 495.0,94.6 498.9,92.6 506.9,82.9 506.8,82.7 494.8,74.0 493.0,72.9Z"/><path d="M498.9,92.6 508.8,105.4 516.6,101.5 520.6,93.6 519.9,91.8 518.2,92.1 516.3,89.1 510.8,87.2 506.8,82.7 506.4,82.4Z"/><path d="M489.0,105.4 491.0,107.4 498.9,117.3 499.9,110.4 508.8,105.4 498.9,92.6 495.0,94.6 494.0,91.6Z"/><path d="M443.7,112.3 452.5,109.4 460.4,102.5 461.4,97.5 460.2,91.3 441.7,110.0 441.3,110.5Z"/><path d="M452.5,109.4 453.5,115.8 462.4,124.7 471.3,132.5 475.2,127.6 478.2,116.3 460.4,102.5Z"/><path d="M478.2,116.3 475.2,127.6 485.1,132.0 495.0,127.6 497.9,124.7 498.9,117.3 491.0,107.4 489.0,105.4Z"/><path d="M540.2,185.1 540.2,192.3 545.0,199.4 556.0,202.6 560.0,201.8 558.4,194.7 560.8,185.9 554.5,179.6 548.1,177.2Z"/><path d="M543.4,166.9 548.1,171.7 554.5,179.6 560.8,182.8 564.0,178.0 560.8,171.7 559.2,163.8 556.0,157.4 546.5,160.6Z"/><path d="M535.4,155.8 545.0,165.3 549.7,159.0 543.4,152.7 534.7,149.5Z"/><path d="M562.4,171.7 567.1,173.3 575.0,166.9 571.9,160.6 560.8,163.8Z"/><path d="M575.0,166.9 579.8,168.5 586.1,171.7 594.1,163.8 584.6,155.8 575.0,159.0Z"/><path d="M568.7,179.6 575.0,185.1 581.4,183.6 587.7,175.6 578.2,169.3 567.1,174.1Z"/><path d="M583.0,217.6 590.9,214.5 602.0,211.3 606.7,206.5 590.9,200.2 575.0,208.1Z"/><path d="M517.2,101.2 510.1,105.9 513.3,115.4 521.2,114.7 529.1,110.7 532.3,102.8 529.1,96.1 522.8,91.7 522.1,91.3 518.2,92.1 517.8,91.5Z"/><path d="M532.3,102.8 529.1,110.7 532.3,116.2 540.2,117.8 542.6,113.9 543.4,105.9 538.6,101.2 536.8,97.6 536.0,96.4 529.1,96.1Z"/><path d="M542.6,113.9 540.2,117.8 546.5,125.0 550.5,121.8 551.3,112.3 556.5,107.8 556.2,107.4 551.3,106.9 549.2,104.5 543.4,105.9Z"/><path d="M550.5,121.8 556.0,121.8 568.7,126.5 570.2,123.8 572.2,118.9 568.7,114.7 562.4,113.9 560.8,112.0 559.2,111.3 556.5,107.8 551.3,112.3Z"/><path d="M495.8,134.5 503.8,136.0 513.3,128.1 511.7,120.2 502.2,121.8 497.4,128.1Z"/><path d="M511.7,120.2 516.4,125.0 530.7,118.6 529.1,110.7 521.2,114.7 513.3,115.4Z"/><path d="M535.4,126.5 543.4,123.4 540.2,117.8 532.3,116.2 530.7,118.6Z"/><path d="M543.4,123.4 540.2,131.3 546.5,136.0 552.9,129.7 550.5,121.8 546.5,125.0 540.2,117.8Z"/><path d="M533.9,145.5 543.4,145.5 546.5,136.0 540.2,131.3 535.4,126.5 530.7,132.9Z"/><path d="M552.9,129.7 557.6,131.3 562.4,125.0 556.0,121.8 550.5,121.8Z"/><path d="M557.6,131.3 559.2,134.5 566.2,132.9 566.1,132.7 567.3,130.3 568.7,126.5 562.4,125.0Z"/></g>
<g fill="#f8a536" stroke="#2b0709" stroke-width="1.35" stroke-linejoin="round"><path d="M437.4,258.6 453.3,276.0 462.0,270.5 479.4,286.3 488.9,277.6 489.7,269.7 494.5,258.6 479.4,242.8 476.2,238.0 470.7,231.7Z"/><path d="M605.1,235.8 608.3,240.6 602.8,250.1 609.1,254.1 615.4,246.9 622.6,243.0 625.0,235.8 617.8,229.5 607.5,230.3Z"/><path d="M483.6,304.8 484.2,306.9 495.4,310.3 505.3,317.4 521.2,306.3 522.2,303.8 524.4,302.4 523.3,301.2 524.4,298.4 520.7,298.4 506.1,282.6 498.3,291.2 488.8,279.4 488.7,279.4 488.7,279.4 478.4,285.0 468.9,296.0Z"/></g>
<path d="M352.7,127.3 353.5,461.5 366.9,465.5 375.6,472.6 380.4,478.9 387.5,475.0 396.2,470.2 396.2,464.7 399.4,458.3 397.0,453.6 391.5,448.0 389.1,441.7 394.7,432.2 393.9,427.4 397.0,417.1 403.4,416.3 404.2,408.6 406.5,396.0 409.7,391.2 404.9,387.2 398.6,384.1 395.4,378.5 397.8,370.6 393.9,363.5 398.6,361.9 403.4,363.5 409.7,369.8 419.2,371.4 427.1,373.8 435.0,370.6 446.1,373.0 457.2,371.4 469.9,370.6 482.6,368.2 492.7,366.5 505.3,364.2 519.6,360.2 533.9,357.0 546.5,353.1 562.4,347.5 575.0,342.8 587.7,337.2 594.1,331.7 597.2,326.9 598.0,317.4 606.7,309.5 613.1,300.8 616.2,294.5 622.6,285.0 630.5,275.4 636.0,267.5 638.4,256.4 638.4,240.6 636.8,235.8 625.7,235.8 617.8,229.5 611.5,220.0 610.7,217.6 610.7,209.7 613.9,205.0 619.4,198.6 622.6,190.7 620.2,182.8 614.7,174.1 605.1,166.9 596.4,159.0 588.8,156.4 581.9,152.4 573.0,147.5 571.0,142.5 568.0,138.6 566.1,132.7 569.0,126.8 572.5,118.2 573.0,113.3 569.0,112.3 563.1,113.1 559.2,111.3 556.2,107.4 551.3,106.9 548.3,103.4 543.4,101.5 539.0,101.0 535.5,95.6 528.6,95.6 523.2,91.1 518.2,92.1 516.3,89.1 510.8,87.2 506.8,82.7 494.0,73.4 491.0,70.4 487.1,74.8 484.1,78.8 481.1,85.7 481.6,87.7 479.2,90.6 471.3,87.2 463.9,84.2 460.9,85.2 460.9,90.6 441.7,110.0 432.8,120.0 425.5,127.3Z" fill="none" stroke="#2b0709" stroke-width="1.5" stroke-linejoin="round"/>
<path d="M633.5,236.5 636.2,241.0 636.2,256.0 633.8,266.8 628.6,274.2 620.8,283.8 614.4,293.3 611.2,299.8" fill="none" stroke="#2b0709" stroke-width="1" stroke-linejoin="round"/>
<path d="M396.5,380.5l5,3.2l5.6,5.2l-2,2.2l-5.2,-4.6l-4.4,-2.6z" fill="#de342d" stroke="#2b0709" stroke-width=".9"/>
<circle cx="568.1" cy="143.4" r="2.6" fill="#d0d0d4" stroke="#2b0709" stroke-width="0.8"/>
</svg>

<div id="footer" class="abs"></div>
<div class="abs ft" id="jef" style="right:260px;top:525px;font-size:6.7px;line-height:6.9px;text-align:right;transform-origin:100% 50%;transform:scaleX(.97);">JEFATURA DE<br>GABINETE</div>
<div class="abs ft" id="gob" style="left:824.8px;top:518.9px;font-size:8.4px;line-height:10px;transform-origin:0 50%;transform:scaleX(.85);">GOBIERNO DE LA PROVINCIA DE</div>
<div class="abs ft" id="bsas" style="left:824.3px;top:526.1px;font-size:16.4px;line-height:18px;transform-origin:0 50%;transform:scaleX(.934);">BUENOS AIRES</div>
<svg class="abs" id="logo" style="left:775px;top:500px" width="45" height="62" viewBox="0 0 45 62">
<defs><clipPath id="lc"><path d="M1.0,9.4 12.9,8.4 17.1,4.1 17.6,3.2 19.9,4.1 20.1,3.4 21.0,1.8 22.1,1.6 24.6,3.6 25.7,4.3 27.2,4.9 28.8,5.6 30.2,6.0 31.3,6.6 32.4,7.4 33.8,7.4 33.3,9.4 33.1,11.1 33.8,12.4 36.2,13.7 38.6,15.2 40.9,17.5 40.8,19.8 39.5,21.4 39.6,22.9 41.7,25.2 43.6,25.9 43.2,29.8 41.2,32.3 39.8,34.6 37.6,37.0 37.0,39.1 34.1,40.7 29.9,42.2 25.9,43.2 21.9,44.1 18.5,44.7 14.9,45.1 12.1,45.2 9.5,44.6 7.8,43.4 7.7,44.7 7.8,46.7 9.5,47.7 8.7,50.2 7.6,51.4 7.3,53.6 6.8,55.9 8.0,57.4 7.5,59.1 5.1,60.4 3.1,58.5Z"/></clipPath></defs><path d="M1.0,9.4 12.9,8.4 17.1,4.1 17.6,3.2 19.9,4.1 20.1,3.4 21.0,1.8 22.1,1.6 24.6,3.6 25.7,4.3 27.2,4.9 28.8,5.6 30.2,6.0 31.3,6.6 32.4,7.4 33.8,7.4 33.3,9.4 33.1,11.1 33.8,12.4 36.2,13.7 38.6,15.2 40.9,17.5 40.8,19.8 39.5,21.4 39.6,22.9 41.7,25.2 43.6,25.9 43.2,29.8 41.2,32.3 39.8,34.6 37.6,37.0 37.0,39.1 34.1,40.7 29.9,42.2 25.9,43.2 21.9,44.1 18.5,44.7 14.9,45.1 12.1,45.2 9.5,44.6 7.8,43.4 7.7,44.7 7.8,46.7 9.5,47.7 8.7,50.2 7.6,51.4 7.3,53.6 6.8,55.9 8.0,57.4 7.5,59.1 5.1,60.4 3.1,58.5Z" fill="rgba(255,255,255,.08)" stroke="#fff" stroke-width=".9" stroke-dasharray="2.2 .7" stroke-linejoin="round"/><g clip-path="url(#lc)" fill="none" stroke="#fff" stroke-width=".85" opacity=".92"><path d="M20.4,31.7q3.1,0.1 -0.1,3.1t-0.1,3.1"/><path d="M28.2,10.1q1.4,1.8 -1.8,1.4t-1.8,1.4"/><path d="M4.2,17.9l0.9,1.5l-1.8,0.0z"/><circle cx="29.4" cy="38.2" r="1.0"/><circle cx="23.8" cy="3.7" r="1.0"/><path d="M1.4,27.4l1.3,2.1l-2.7,0.0z"/><path d="M23.1,37.5q2.2,-0.3 0.3,2.2t0.3,2.2"/><circle cx="31.9" cy="19.5" r="1.1"/><path d="M3.2,46.2l1.3,2.0l-2.6,0.0z"/><path d="M16.2,2.7q1.9,-1.6 1.6,1.9t1.6,1.9"/><path d="M1.0,19.5q1.1,-2.9 2.9,1.1t2.9,1.1"/><path d="M2.4,47.8q1.6,-0.3 0.3,1.6t0.3,1.6"/><circle cx="5.9" cy="39.9" r="0.9"/><path d="M9.6,14.8l2.0,3.1l-3.9,0.0z"/><path d="M6.7,23.5q0.9,-2.8 2.8,0.9t2.8,0.9"/><circle cx="14.8" cy="18.4" r="0.9"/><circle cx="26.2" cy="15.1" r="1.5"/><circle cx="21.8" cy="35.6" r="1.8"/><circle cx="6.9" cy="56.3" r="1.8"/><circle cx="27.2" cy="26.1" r="0.9"/><path d="M30.0,13.7q2.3,-1.7 1.7,2.3t1.7,2.3"/><path d="M3.1,12.7l1.5,2.4l-2.9,0.0z"/><circle cx="27.6" cy="17.4" r="1.9"/><circle cx="7.9" cy="22.9" r="1.5"/><circle cx="31.1" cy="36.2" r="1.0"/><path d="M3.4,32.2l1.7,2.7l-3.4,0.0z"/><path d="M15.8,40.6l1.9,3.0l-3.8,0.0z"/><circle cx="38.9" cy="35.5" r="1.5"/><path d="M27.7,37.7q0.0,1.4 -1.4,0.0t-1.4,0.0"/><circle cx="26.1" cy="27.3" r="1.8"/><path d="M27.0,28.1q1.7,-0.0 0.0,1.7t0.0,1.7"/><circle cx="13.5" cy="42.0" r="1.0"/><circle cx="14.7" cy="41.3" r="1.0"/><circle cx="39.6" cy="23.8" r="1.5"/><path d="M6.1,29.0l1.8,2.9l-3.6,0.0z"/><circle cx="12.5" cy="10.5" r="1.3"/><path d="M8.3,23.6q2.1,-1.4 1.4,2.1t1.4,2.1"/><path d="M20.4,3.8l0.8,1.3l-1.7,0.0z"/><circle cx="1.9" cy="43.9" r="1.5"/><path d="M6.1,27.4l0.8,1.3l-1.7,0.0z"/><path d="M3.1,37.1q1.9,1.0 -1.0,1.9t-1.0,1.9"/><circle cx="30.8" cy="12.4" r="1.4"/><circle cx="32.1" cy="11.1" r="1.1"/><path d="M30.6,29.9q2.3,-0.8 0.8,2.3t0.8,2.3"/><circle cx="3.9" cy="57.8" r="1.7"/><circle cx="20.4" cy="38.8" r="1.9"/><path d="M22.3,39.5q0.9,1.4 -1.4,0.9t-1.4,0.9"/><circle cx="38.5" cy="21.6" r="0.9"/><circle cx="21.9" cy="1.8" r="1.8"/><circle cx="42.6" cy="30.5" r="1.9"/><path d="M10.7,31.0q1.7,0.8 -0.8,1.7t-0.8,1.7"/><path d="M25.2,18.1l1.3,2.0l-2.5,0.0z"/><path d="M23.6,33.9q1.7,0.0 -0.0,1.7t-0.0,1.7"/><circle cx="25.3" cy="30.4" r="1.6"/><path d="M24.2,23.7l1.9,3.1l-3.9,0.0z"/><circle cx="12.1" cy="29.3" r="1.0"/><path d="M23.0,19.3q0.4,1.6 -1.6,0.4t-1.6,0.4"/><circle cx="5.8" cy="48.3" r="0.8"/><circle cx="10.2" cy="42.6" r="1.2"/><circle cx="27.9" cy="6.5" r="1.7"/><path d="M22.6,13.9q1.6,-0.3 0.3,1.6t0.3,1.6"/><circle cx="16.9" cy="25.6" r="1.4"/><path d="M11.4,38.0q1.1,2.2 -2.2,1.1t-2.2,1.1"/><circle cx="14.2" cy="19.5" r="1.9"/><circle cx="6.0" cy="14.8" r="1.7"/><path d="M2.4,50.8q0.8,-1.9 1.9,0.8t1.9,0.8"/><circle cx="18.1" cy="42.5" r="0.8"/><circle cx="22.6" cy="42.5" r="1.0"/><circle cx="24.8" cy="31.9" r="1.5"/><path d="M8.3,10.8l1.8,2.9l-3.6,0.0z"/><circle cx="14.7" cy="29.0" r="1.4"/><circle cx="8.2" cy="28.1" r="1.7"/><circle cx="8.8" cy="10.2" r="1.4"/><path d="M30.8,24.9q0.1,2.4 -2.4,0.1t-2.4,0.1"/><path d="M38.5,14.1q1.9,2.3 -2.3,1.9t-2.3,1.9"/><path d="M36.7,23.3l1.9,3.0l-3.8,0.0z"/><circle cx="34.4" cy="25.2" r="1.7"/><circle cx="15.4" cy="29.1" r="0.8"/><path d="M28.7,37.6l1.1,1.7l-2.2,0.0z"/><path d="M30.2,18.4q2.5,0.3 -0.3,2.5t-0.3,2.5"/><circle cx="33.2" cy="15.9" r="1.3"/><circle cx="8.8" cy="23.3" r="0.9"/><circle cx="3.4" cy="37.0" r="1.7"/><path d="M19.0,10.1q0.4,-2.2 2.2,0.4t2.2,0.4"/><path d="M41.6,24.0q2.1,-0.9 0.9,2.1t0.9,2.1"/><circle cx="12.9" cy="40.6" r="1.5"/><circle cx="32.2" cy="18.4" r="0.8"/><circle cx="1.9" cy="9.7" r="1.7"/><path d="M40.7,25.3l1.4,2.2l-2.7,0.0z"/><path d="M10.7,29.4q3.1,-0.3 0.3,3.1t0.3,3.1"/><path d="M25.2,5.7q1.5,-2.0 2.0,1.5t2.0,1.5"/><circle cx="2.3" cy="32.7" r="0.9"/><path d="M29.6,26.5q1.7,-0.4 0.4,1.7t0.4,1.7"/><path d="M35.0,30.9l2.0,3.2l-4.0,0.0z"/><path d="M33.0,13.8l0.9,1.5l-1.9,0.0z"/><circle cx="35.3" cy="38.7" r="1.2"/><path d="M32.6,33.3q1.7,1.7 -1.7,1.7t-1.7,1.7"/><path d="M8.5,13.5l2.0,3.2l-4.0,0.0z"/><path d="M0.7,16.1q0.7,-2.0 2.0,0.7t2.0,0.7"/><path d="M24.6,3.1q1.4,0.2 -0.2,1.4t-0.2,1.4"/><circle cx="28.4" cy="23.1" r="1.4"/><path d="M3.4,48.6q1.5,-1.9 1.9,1.5t1.9,1.5"/><circle cx="19.1" cy="16.0" r="1.8"/><path d="M14.6,32.3l1.7,2.7l-3.4,0.0z"/><path d="M19.2,22.0l0.9,1.5l-1.8,0.0z"/><circle cx="25.4" cy="30.1" r="1.6"/><circle cx="9.6" cy="41.1" r="0.9"/><path d="M11.9,7.1q1.8,-0.8 0.8,1.8t0.8,1.8"/><path d="M5.3,42.5l1.5,2.4l-3.0,0.0z"/><path d="M13.7,18.4l1.3,2.0l-2.6,0.0z"/><circle cx="16.3" cy="22.7" r="1.2"/><path d="M17.7,9.7q2.3,0.3 -0.3,2.3t-0.3,2.3"/><path d="M39.1,34.3q0.6,1.5 -1.5,0.6t-1.5,0.6"/><path d="M23.2,32.3l1.5,2.4l-3.0,0.0z"/><circle cx="2.9" cy="33.9" r="1.7"/><circle cx="3.7" cy="45.7" r="1.9"/><path d="M26.6,7.0q1.9,-1.9 1.9,1.9t1.9,1.9"/><path d="M17.7,17.8q3.1,-0.1 0.1,3.1t0.1,3.1"/><path d="M28.8,30.8l1.7,2.6l-3.3,0.0z"/><path d="M20.5,26.0q0.0,1.6 -1.6,0.0t-1.6,0.0"/><circle cx="16.9" cy="10.4" r="1.0"/><path d="M3.8,18.2q1.0,1.1 -1.1,1.0t-1.1,1.0"/><circle cx="20.6" cy="36.2" r="1.9"/><circle cx="4.9" cy="11.4" r="1.1"/><circle cx="32.3" cy="36.9" r="1.1"/><circle cx="12.6" cy="10.7" r="1.7"/><path d="M21.6,14.3l1.9,3.0l-3.7,0.0z"/><path d="M13.0,31.9q2.0,-2.4 2.4,2.0t2.4,2.0"/><path d="M34.6,22.1q1.7,-1.5 1.5,1.7t1.5,1.7"/><path d="M22.2,20.4q2.7,0.9 -0.9,2.7t-0.9,2.7"/></g>
</svg>
<div id="topline" class="abs"></div>
<div id="rightline" class="abs"></div>
</body>
</html>
